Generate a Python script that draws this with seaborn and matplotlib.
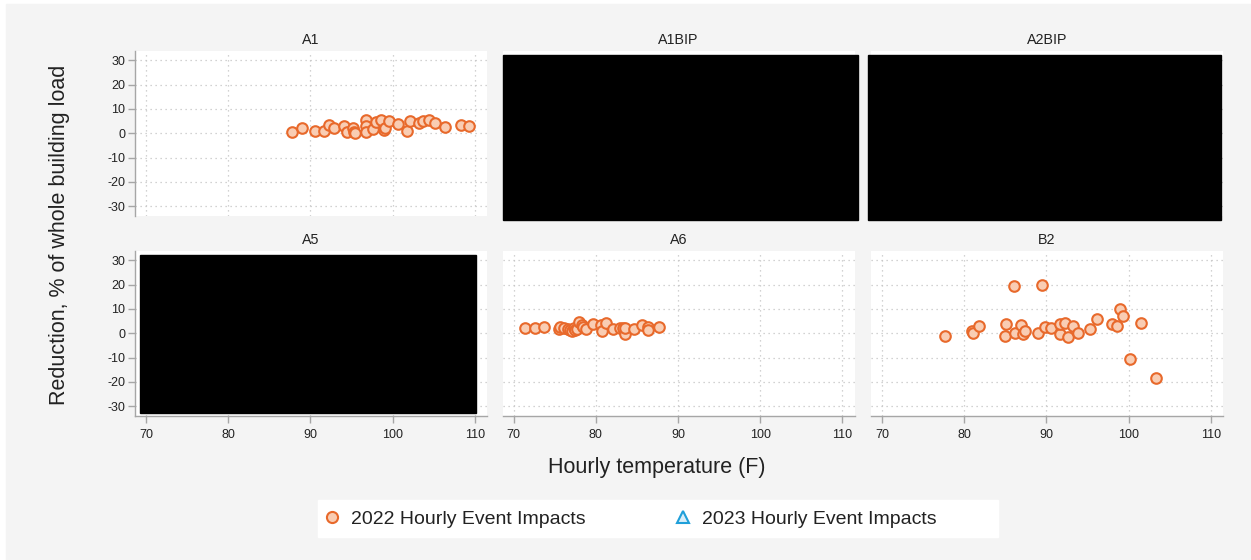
import matplotlib
matplotlib.use("Agg")
import pandas as pd
import matplotlib.pyplot as plt
import seaborn as sns
from matplotlib.lines import Line2D
from matplotlib.patches import Rectangle

# panel order (Stata by-graph, 3 columns)
SITES    = ["A1", "A1BIP", "A2BIP", "A5", "A6", "B2"]
REDACTED = {"A1BIP": (0.0, -0.024, 1.01, 1.0),
            "A2BIP": (-0.009, -0.024, 1.003, 1.0),
            "A5":    (0.014, 0.02, 0.955, 0.956)}

# 2022 hourly event impacts
A1_TEMP = [87.8, 89.0, 90.5, 91.7, 92.3, 92.9, 94.1, 94.4, 95.2, 95.3,
           95.4, 96.7, 96.7, 96.8, 97.6, 98.0, 98.6, 98.9, 99.1, 99.5,
           100.6, 101.8, 102.1, 103.2, 103.7, 104.4, 105.1, 106.4, 108.3, 109.3]
A1_RED  = [0.6, 2.2, 1.0, 1.0, 3.6, 2.1, 2.8, 0.6, 2.1, 0.7,
           0.0, 5.6, 3.1, 0.7, 1.8, 4.6, 5.3, 1.4, 2.1, 5.1,
           3.9, 1.1, 5.0, 4.3, 5.0, 5.6, 4.2, 2.6, 3.5, 2.9]

A6_TEMP = [71.4, 72.6, 73.7, 75.5, 75.7, 76.1, 76.6, 76.9, 77.1, 77.3,
           77.5, 77.7, 78.0, 78.3, 78.5, 78.8, 79.7, 80.6, 80.8, 81.2,
           82.1, 82.9, 83.3, 83.6, 83.6, 84.7, 85.6, 86.3, 86.4, 87.7]
A6_RED  = [2.3, 2.2, 2.7, 1.8, 2.5, 2.1, 1.6, 1.4, 0.8, 2.1,
           1.4, 1.9, 4.7, 3.4, 2.5, 1.9, 3.8, 3.3, 1.1, 4.1,
           1.8, 2.1, 2.3, -0.1, 2.1, 1.6, 3.2, 2.6, 1.5, 2.5]

B2_TEMP = [77.7, 80.9, 81.1, 81.8, 85.0, 85.1, 86.0, 86.2, 86.9, 87.1,
           87.4, 89.0, 89.5, 89.8, 90.6, 91.6, 91.7, 92.2, 92.6, 93.2,
           93.9, 95.3, 96.2, 98.0, 98.6, 99.0, 99.3, 100.2, 101.5, 103.3]
B2_RED  = [-1.1, 1.1, 0.0, 2.8, -1.2, 3.9, 19.3, 0.0, 3.3, -0.1,
           1.0, 0.0, 19.9, 2.5, 2.1, -0.1, 3.9, 4.1, -1.7, 2.8,
           0.0, 1.7, 5.9, 3.7, 2.8, 9.9, 7.2, -10.6, 4.3, -18.6]

X_TICKS = [70, 80, 90, 100, 110]
Y_TICKS = [-30, -20, -10, 0, 10, 20, 30]

ORANGE_EDGE = "#e8692b"
ORANGE_FACE = "#f9cdb3"
BLUE        = "#1f9fd9"
BG          = "#f4f4f4"
GRID        = "#c4c4c4"
AXIS        = "#a6a6a6"
TXT         = "#222222"

frames = []
for site, t, r in [("A1", A1_TEMP, A1_RED), ("A6", A6_TEMP, A6_RED), ("B2", B2_TEMP, B2_RED)]:
    frames.append(pd.DataFrame({"site": site, "temp": t, "reduction": r, "year": "2022"}))
df = pd.concat(frames, ignore_index=True)

sns.set_style("white")
plt.rcParams["font.family"] = ["Liberation Sans", "DejaVu Sans"]
plt.rcParams["axes.unicode_minus"] = False

W, H = 1251, 560
fig = plt.figure(figsize=(W / 100, H / 100), dpi=100, facecolor="white")
fig.patches.append(Rectangle((6 / W, 0), 1 - 6 / W, 1 - 4 / H, transform=fig.transFigure,
                             color=BG, zorder=-10))

COL_LEFT = [135, 502.5, 871]
ROW_TOP  = [51, 251]
AX_W, AX_H = 352, 165

for i, site in enumerate(SITES):
    r, c = divmod(i, 3)
    left, top = COL_LEFT[c], ROW_TOP[r]
    ax = fig.add_axes([left / W, 1 - (top + AX_H) / H, AX_W / W, AX_H / H])
    ax.set_facecolor("white")
    ax.set_axisbelow(True)

    sub = df[df["site"] == site]
    if len(sub):
        sns.scatterplot(data=sub, x="temp", y="reduction", ax=ax, marker="o", s=58,
                        color=ORANGE_FACE, edgecolor=ORANGE_EDGE, linewidth=1.5,
                        legend=False, zorder=3)

    ax.set_xlim(68.66, 111.48)
    ax.set_ylim(-34.1, 33.9)
    ax.set_xticks(X_TICKS)
    ax.set_yticks(Y_TICKS)
    ax.grid(True, color=GRID, linestyle=(0, (1, 3)), linewidth=0.9)
    ax.set_xlabel("")
    ax.set_ylabel("")

    for s in ax.spines.values():
        s.set_visible(False)
    if c == 0:
        ax.spines["left"].set_visible(True)
        ax.spines["left"].set_color(AXIS)
        ax.spines["left"].set_linewidth(1.0)
        ax.tick_params(axis="y", left=True, labelleft=True, length=5, width=1.0,
                       color=AXIS, labelsize=9, labelcolor=TXT, pad=2)
    else:
        ax.tick_params(axis="y", left=False, labelleft=False)
    if r == 1:
        ax.spines["bottom"].set_visible(True)
        ax.spines["bottom"].set_color(AXIS)
        ax.spines["bottom"].set_linewidth(1.0)
        ax.tick_params(axis="x", bottom=True, labelbottom=True, length=5, width=1.0,
                       color=AXIS, labelsize=9, labelcolor=TXT, pad=4)
    else:
        ax.tick_params(axis="x", bottom=False, labelbottom=False)

    ax.set_title(site, fontsize=10.3, color=TXT, pad=5)

    if site in REDACTED:
        x0, y0, w, h = REDACTED[site]
        ax.add_patch(Rectangle((x0, y0), w, h, transform=ax.transAxes,
                               color="black", clip_on=False, zorder=6))

fig.text(60 / W, 1 - 235 / H, "Reduction, % of whole building load", rotation=90,
         ha="center", va="center", fontsize=15.5, color=TXT)
fig.text(657 / W, 1 - 468 / H, "Hourly temperature (F)",
         ha="center", va="center", fontsize=15.5, color=TXT)

# white legend box, as in the Stata output
fig.patches.append(Rectangle((318 / W, 1 - 537 / H), 680 / W, 37 / H,
                             transform=fig.transFigure, color="white", zorder=1))
handles = [
    Line2D([], [], linestyle="none", marker="o", markersize=8,
           markerfacecolor=ORANGE_FACE, markeredgecolor=ORANGE_EDGE, markeredgewidth=1.5),
    Line2D([], [], linestyle="none", marker="^", markersize=8,
           markerfacecolor="#d9eef9", markeredgecolor=BLUE, markeredgewidth=1.5),
]
labels = ["2022 Hourly Event Impacts", "2023 Hourly Event Impacts"]
leg = fig.legend(handles, labels, loc="center left",
                 bbox_to_anchor=(325 / W, 1 - 519 / H),
                 ncol=2, frameon=False, fontsize=14, handletextpad=0.6,
                 borderpad=0, handlelength=0.75, columnspacing=4.6, borderaxespad=0)
for t in leg.get_texts():
    t.set_color(TXT)

fig.savefig("out.png", dpi=100, facecolor=fig.get_facecolor())
